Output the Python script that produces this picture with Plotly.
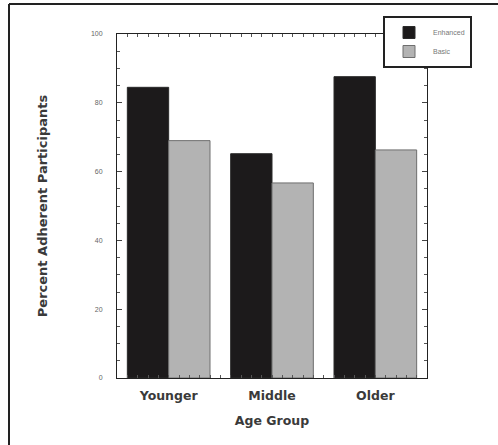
import plotly.graph_objects as go

categories = ["Younger", "Middle", "Older"]
enhanced = [84.5, 65.2, 87.6]
basic = [69.0, 56.7, 66.3]
series_names = ["Enhanced", "Basic"]
y_ticks = [0, 20, 40, 60, 80, 100]

FONT = "Liberation Sans, Arial, sans-serif"
BFONT = "DejaVu Sans, Liberation Sans, sans-serif"

# category slots on a numeric axis (10 units per category)
xpos = [10 * i for i in range(len(categories))]
label_of = dict(zip(xpos, categories))
x_tickvals = list(range(-5, 26))
x_ticktext = [label_of.get(v, "") for v in x_tickvals]

fig = go.Figure()
fig.add_trace(go.Bar(x=xpos, y=enhanced, name=series_names[0],
                     marker=dict(color="#1c1a1b", line=dict(color="#2a2a2a", width=1))))
fig.add_trace(go.Bar(x=xpos, y=basic, name=series_names[1],
                     marker=dict(color="#b3b3b3", line=dict(color="#6e6e6e", width=1))))

L, R, T, B = 117, 427, 34, 378
W, H = 498, 445

def px_x(p):
    return (p - L) / (R - L)

def px_y(p):
    return (B - p) / (B - T)

fig.update_layout(
    width=W, height=H,
    margin=dict(l=L, r=W - R, t=T, b=H - B, pad=0, autoexpand=False),
    paper_bgcolor="white", plot_bgcolor="white",
    barmode="group", bargap=0.2, bargroupgap=0.0,
    font=dict(family=FONT, color="#333"),
    xaxis=dict(
        range=[-5, 25], automargin=False,
        tickmode="array", tickvals=x_tickvals, ticktext=x_ticktext,
        showline=True, linecolor="#222", linewidth=1, mirror="allticks",
        ticks="inside", ticklen=3, tickwidth=1, tickcolor="#555",
        showgrid=False, zeroline=False,
        tickfont=dict(family=BFONT, size=12.5, color="#3a3a3a", weight="bold"),
        ticklabelstandoff=6,
        title=dict(text="<b>Age Group</b>", font=dict(family=BFONT, size=12.5, color="#3a3a3a"),
                   standoff=14),
    ),
    yaxis=dict(
        range=[0, 100], tickvals=y_ticks, ticktext=[str(v) for v in y_ticks], automargin=False,
        showline=True, linecolor="#222", linewidth=1, mirror="allticks",
        ticks="inside", ticklen=5, tickcolor="#444",
        minor=dict(ticks="inside", ticklen=3, tickcolor="#555", dtick=5, showgrid=False),
        showgrid=False, zeroline=False,
        tickfont=dict(family=FONT, size=7, color="#666"),
        ticklabelstandoff=12,
        title=dict(text="<b>Percent Adherent Participants</b>",
                   font=dict(family=BFONT, size=13, color="#3a3a3a"), standoff=40),
    ),
    legend=dict(
        x=px_x(383), y=px_y(16), xanchor="left", yanchor="top",
        bgcolor="white", bordercolor="#222", borderwidth=2,
        font=dict(family=FONT, size=7, color="#777"),
        itemwidth=38, tracegroupgap=0,
    ),
    showlegend=True,
)

# outer frame lines (top and left) of the figure
fig.add_shape(type="line", xref="paper", yref="paper",
              x0=px_x(9), x1=px_x(W + 5), y0=px_y(4), y1=px_y(4),
              line=dict(color="#222", width=2))
fig.add_shape(type="line", xref="paper", yref="paper",
              x0=px_x(9), x1=px_x(9), y0=px_y(4), y1=px_y(H + 5),
              line=dict(color="#222", width=2))

fig.write_html("out.html", config={"displayModeBar": False},
               post_script="document.body.style.margin='0';")
